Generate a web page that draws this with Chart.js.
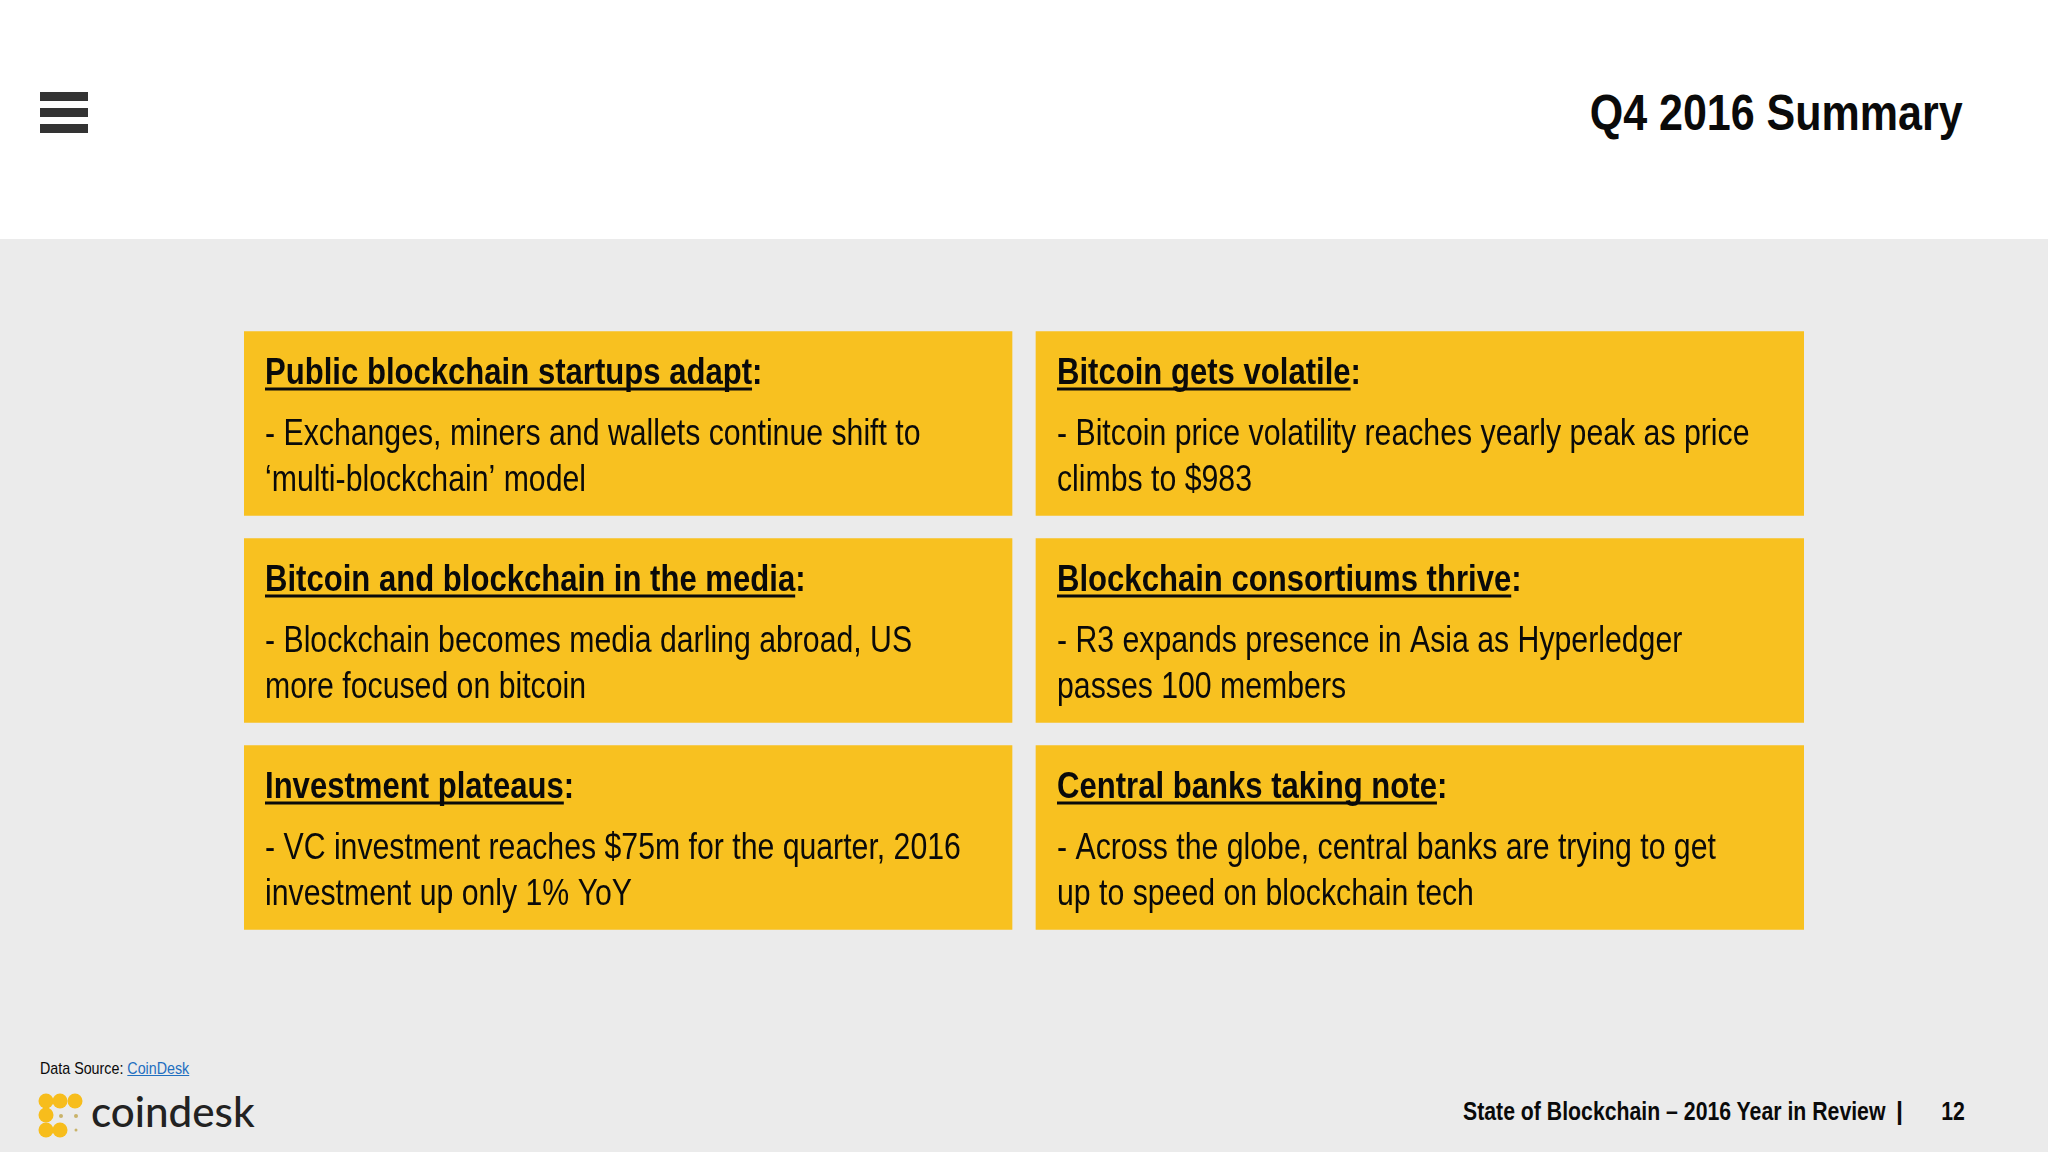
<!DOCTYPE html>
<html lang="en">
<head>
    <meta charset="UTF-8">
    <title>Q4 2016 Summary</title>
    <script src="https://cdn.jsdelivr.net/npm/chart.js"></script>
    <style>
        html, body { margin: 0; padding: 0; }
        #slide { position: relative; width: 2048px; height: 1152px; overflow: hidden; background: #ebebeb; font-family: "Liberation Sans", Arial, sans-serif; color: #0a0a0a; }
        #header { position: absolute; left: 0; top: 0; width: 2048px; height: 239px; background: #fff; }
        .bar { position: absolute; left: 40px; width: 48px; height: 9px; background: #333; }
        .txt { position: absolute; white-space: nowrap; line-height: 1; }
        #title { right: 85px; top: 88px; font-size: 50px; font-weight: bold; transform: scaleX(0.86); transform-origin: right top; }
        #source { left: 40px; top: 1060px; font-size: 17px; transform: scaleX(0.84); transform-origin: left top; }
        #source a { color: #1f6fc0; text-decoration: underline; }
        #footer { left: 1463px; top: 1099px; font-size: 25px; font-weight: bold; transform: scaleX(0.85); transform-origin: left top; }
        #sep { left: 1896px; top: 1099px; font-size: 25px; font-weight: bold; }
        #page { right: 83px; top: 1099px; font-size: 25px; font-weight: bold; transform: scaleX(0.85); transform-origin: right top; }
        #brand { left: 91px; top: 1089px; font-family: Lato, "Noto Sans", sans-serif; font-size: 43px; font-weight: 500; color: #222; transform: scaleX(0.98); transform-origin: left top; }
        #logo { position: absolute; left: 0; top: 1090px; }
        #cards { position: absolute; left: 244px; top: 320px; }
    </style>
</head>
<body>
<div id="slide">
    <div id="header">
        <div class="bar" style="top: 92px"></div>
        <div class="bar" style="top: 108px"></div>
        <div class="bar" style="top: 124px"></div>
        <div class="txt" id="title">Q4 2016 Summary</div>
    </div>

    <canvas id="cards" width="1560" height="621"></canvas>

    <div class="txt" id="source">Data Source: <a href="#">CoinDesk</a></div>
    <svg id="logo" width="90" height="54">
        <g fill="#f7bd1c">
            <circle cx="46" cy="11" r="7.5"/><circle cx="60" cy="11" r="7.5"/><circle cx="75" cy="11" r="7.5"/>
            <circle cx="46" cy="25" r="7.5"/><circle cx="46" cy="40" r="7.5"/><circle cx="60" cy="40" r="7.5"/>
        </g>
        <g fill="#c9b36a">
            <circle cx="61" cy="26" r="2"/><circle cx="76" cy="26" r="2"/><circle cx="76" cy="40" r="1.5"/>
        </g>
    </svg>
    <div class="txt" id="brand">coindesk</div>
    <div class="txt" id="footer">State of Blockchain – 2016 Year in Review</div>
    <div class="txt" id="sep">|</div>
    <div class="txt" id="page">12</div>
</div>

<script>
    // Карточки слайда: три ряда, две колонки
    const rows = ['Row 1', 'Row 2', 'Row 3'];
    const leftColumn = [[0, 768], [0, 768], [0, 768]];
    const rightColumn = [[792, 1560], [792, 1560], [792, 1560]];

    const leftHeadings = ['Public blockchain startups adapt', 'Bitcoin and blockchain in the media', 'Investment plateaus'];
    const rightHeadings = ['Bitcoin gets volatile', 'Blockchain consortiums thrive', 'Central banks taking note'];
    const leftLines = [
        ['- Exchanges, miners and wallets continue shift to', '‘multi-blockchain’ model'],
        ['- Blockchain becomes media darling abroad, US', 'more focused on bitcoin'],
        ['- VC investment reaches $75m for the quarter, 2016', 'investment up only 1% YoY']
    ];
    const rightLines = [
        ['- Bitcoin price volatility reaches yearly peak as price', 'climbs to $983'],
        ['- R3 expands presence in Asia as Hyperledger', 'passes 100 members'],
        ['- Across the globe, central banks are trying to get', 'up to speed on blockchain tech']
    ];

    const squeeze = 0.84;

    // Текст карточек рисуем поверх столбцов
    const cardText = {
        id: 'cardText',
        afterDatasetsDraw(chart) {
            const ctx = chart.ctx;
            const texts = [[leftHeadings, leftLines], [rightHeadings, rightLines]];
            texts.forEach(([headings, lines], d) => {
                chart.getDatasetMeta(d).data.forEach((bar, i) => {
                    const x = bar.base + 21;
                    const top = bar.y - bar.height / 2;
                    ctx.save();
                    ctx.translate(x, 0);
                    ctx.scale(squeeze, 1);
                    ctx.fillStyle = '#0a0a0a';
                    ctx.textBaseline = 'alphabetic';

                    ctx.font = 'bold 37px "Liberation Sans"';
                    ctx.fillText(headings[i], 0, top + 52);
                    const w = ctx.measureText(headings[i]).width;
                    ctx.fillRect(0, top + 56, w, 3);
                    ctx.fillText(':', w, top + 52);

                    ctx.font = '36px "Liberation Sans"';
                    ctx.fillText(lines[i][0], 0, top + 113);
                    ctx.fillText(lines[i][1], 0, top + 159);
                    ctx.restore();
                });
            });
        }
    };

    new Chart(document.getElementById('cards').getContext('2d'), {
        type: 'bar',
        data: {
            labels: rows,
            datasets: [
                { label: 'Left', data: leftColumn, backgroundColor: '#f8c120', barThickness: 184 },
                { label: 'Right', data: rightColumn, backgroundColor: '#f8c120', barThickness: 184 }
            ]
        },
        options: {
            indexAxis: 'y',
            responsive: false,
            animation: false,
            layout: { padding: 0 },
            plugins: { legend: { display: false }, tooltip: { enabled: false } },
            scales: {
                x: { display: false, min: 0, max: 1560 },
                y: { display: false, stacked: true }
            }
        },
        plugins: [cardText]
    });
</script>
</body>
</html>
